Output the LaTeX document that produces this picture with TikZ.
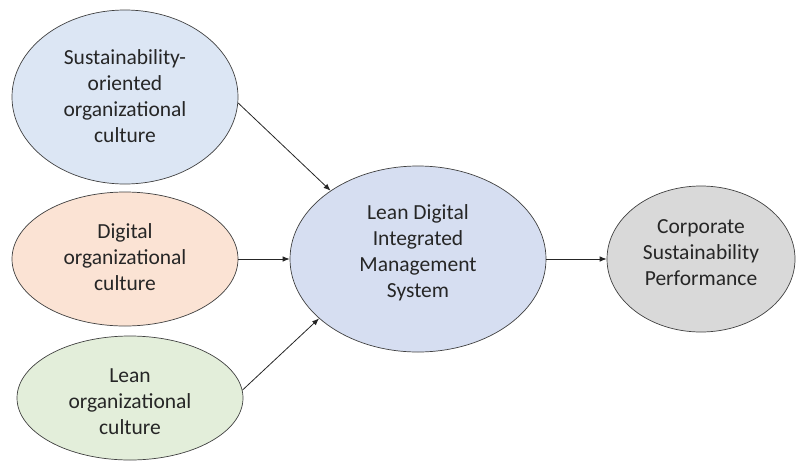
\documentclass[tikz,border=0pt]{standalone}
\usepackage{fontspec}
\setmainfont{Carlito}
\usetikzlibrary{shapes.geometric,arrows.meta}
\definecolor{edgegray}{HTML}{404040}
\definecolor{textgray}{HTML}{262626}
\definecolor{soblue}{HTML}{DCE6F4}
\definecolor{dopeach}{HTML}{FBE3D4}
\definecolor{logreen}{HTML}{E3EEDA}
\definecolor{ldblue}{HTML}{D6DEF1}
\definecolor{cspgray}{HTML}{D9D9D9}
\tikzset{
  construct/.style={ellipse, draw=edgegray, line width=0.7pt, inner sep=0pt},
  caption/.style={align=center, text=textgray, inner sep=0pt,
    font=\fontsize{21.5}{26}\selectfont},
  link/.style={draw=black!85, line width=0.8pt,
    -{Latex[length=7pt,width=5.5pt]}}
}
\begin{document}
\begin{tikzpicture}[x=1pt,y=-1pt]
  \useasboundingbox (0,0) rectangle (799,461);
  % constructs
  \node[construct, fill=soblue, minimum width=226pt, minimum height=174pt]
    (soc) at (125,97) {};
  \node[construct, fill=dopeach, minimum width=226pt, minimum height=134pt]
    (doc) at (125,259) {};
  \node[construct, fill=logreen, minimum width=226pt, minimum height=124pt]
    (loc) at (130,398) {};
  \node[construct, fill=ldblue, minimum width=256pt, minimum height=186pt]
    (ldims) at (418,259) {};
  \node[construct, fill=cspgray, minimum width=188pt, minimum height=146pt]
    (csp) at (701,259) {};
  % captions
  \node[caption] (socT) at ([yshift=1pt]soc.center)
    {Sustainability-\\oriented\\organizational\\culture};
  \node[caption] (docT) at ([yshift=2pt]doc.center)
    {Digital\\organizational\\culture};
  \node[caption] (locT) at ([yshift=-4pt]loc.center)
    {Lean\\organizational\\culture};
  \node[caption] (ldimsT) at ([yshift=6pt]ldims.center)
    {Lean Digital\\Integrated\\Management\\System};
  \node[caption] (cspT) at ([yshift=6pt]csp.center)
    {Corporate\\Sustainability\\Performance};
  % relations
  \draw[link] (soc.-3) -- (ldims.142);
  \draw[link] (doc.east) -- (ldims.west);
  \draw[link] (loc.4) -- (ldims.211);
  \draw[link] (ldims.east) -- (csp.west);
\end{tikzpicture}
\end{document}
